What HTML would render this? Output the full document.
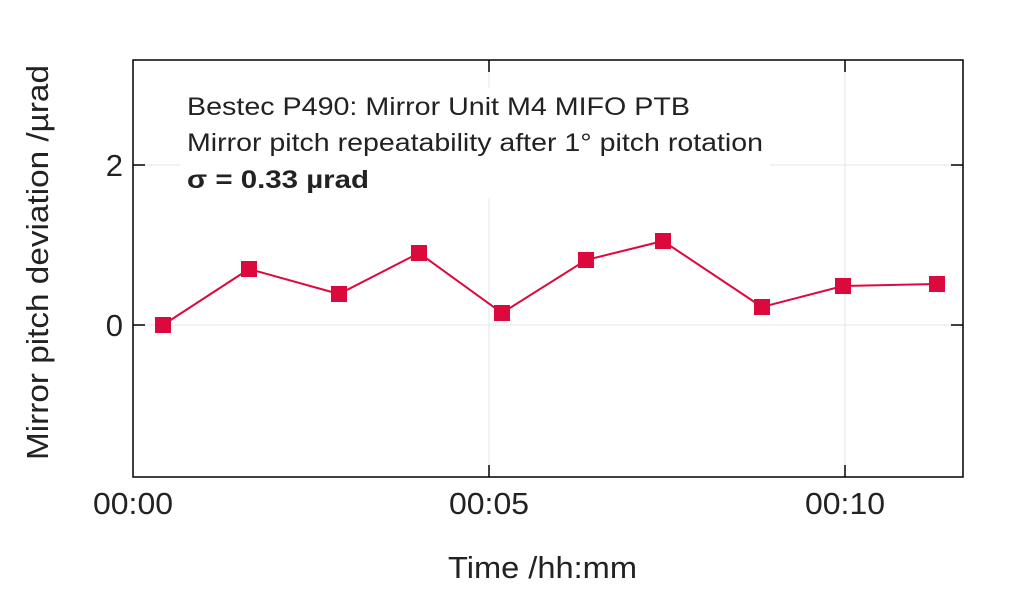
<!DOCTYPE html>
<html><head><style>body{margin:0;background:#fff}</style></head><body>
<svg width="1024" height="589" xmlns="http://www.w3.org/2000/svg" font-family="Liberation Sans, sans-serif">
<rect width="1024" height="589" fill="#fff"/>
<g stroke="#e4e4e4" stroke-width="1">
<line x1="489" y1="60" x2="489" y2="477"/><line x1="845" y1="60" x2="845" y2="477"/>
<line x1="133" y1="165" x2="963" y2="165"/><line x1="133" y1="325" x2="963" y2="325"/>
</g>
<rect x="180" y="88" width="590" height="110" fill="#fff"/>
<rect x="133" y="60" width="830" height="417" fill="none" stroke="#000" stroke-width="1.5"/>
<g stroke="#000" stroke-width="1.5">
<line x1="133" y1="165" x2="145" y2="165"/><line x1="133" y1="325" x2="145" y2="325"/>
<line x1="963" y1="165" x2="951" y2="165"/><line x1="963" y1="325" x2="951" y2="325"/>
<line x1="489" y1="60" x2="489" y2="72"/><line x1="845" y1="60" x2="845" y2="72"/>
<line x1="489" y1="477" x2="489" y2="465"/><line x1="845" y1="477" x2="845" y2="465"/>
</g>
<g font-size="31" fill="#222">
<text x="123" y="176" text-anchor="end">2</text>
<text x="123" y="336" text-anchor="end">0</text>
<text x="93" y="514" textLength="80" lengthAdjust="spacingAndGlyphs">00:00</text>
<text x="449" y="514" textLength="80" lengthAdjust="spacingAndGlyphs">00:05</text>
<text x="805" y="514" textLength="80" lengthAdjust="spacingAndGlyphs">00:10</text>
<text x="448" y="578" textLength="189" lengthAdjust="spacingAndGlyphs">Time /hh:mm</text>
<text transform="translate(48,460) rotate(-90)" textLength="395" lengthAdjust="spacingAndGlyphs">Mirror pitch deviation /µrad</text>
</g>
<g font-size="25" fill="#222">
<text x="187" y="115" textLength="503" lengthAdjust="spacingAndGlyphs">Bestec P490: Mirror Unit M4 MIFO PTB</text>
<text x="187" y="151" textLength="576" lengthAdjust="spacingAndGlyphs">Mirror pitch repeatability after 1° pitch rotation</text>
<text x="187" y="188" font-weight="bold" textLength="182" lengthAdjust="spacingAndGlyphs">σ = 0.33 µrad</text>
</g>
<polyline fill="none" stroke="#dc0a3c" stroke-width="2" points="163,325 249,269 339,294 419,253 502,313 586,260 663,241 762,307 843,286 937,284"/>
<g fill="#dc0a3c">
<rect x="155" y="317" width="16" height="16"/><rect x="241" y="261" width="16" height="16"/>
<rect x="331" y="286" width="16" height="16"/><rect x="411" y="245" width="16" height="16"/>
<rect x="494" y="305" width="16" height="16"/><rect x="578" y="252" width="16" height="16"/>
<rect x="655" y="233" width="16" height="16"/><rect x="754" y="299" width="16" height="16"/>
<rect x="835" y="278" width="16" height="16"/><rect x="929" y="276" width="16" height="16"/>
</g>
</svg>
</body></html>
